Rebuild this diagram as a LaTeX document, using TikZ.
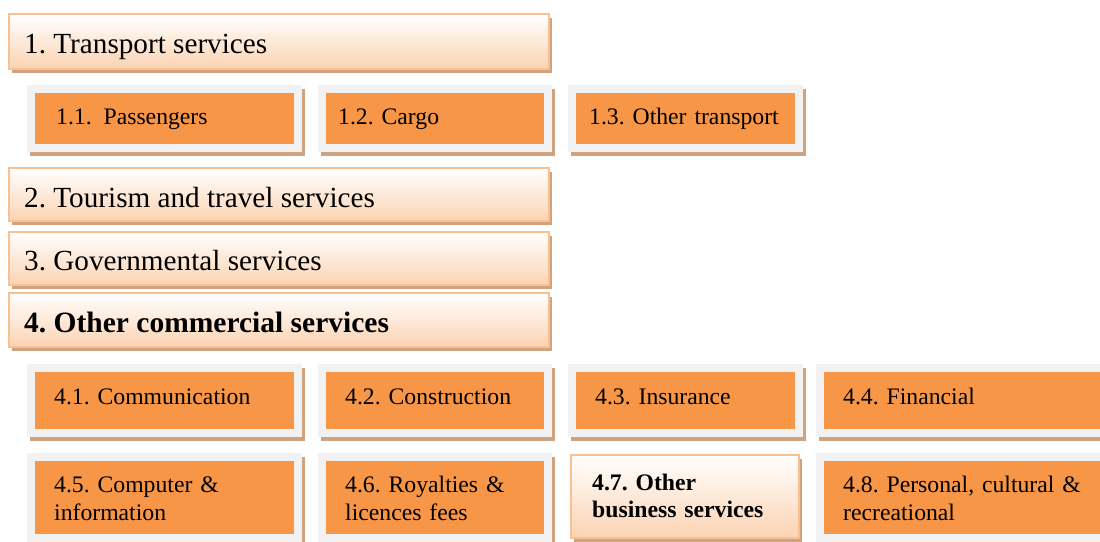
\documentclass[tikz,border=0pt]{standalone}
\usepackage{fontspec}
\setmainfont{Liberation Serif}
\frenchspacing

\definecolor{accent}{RGB}{247,150,70}
\definecolor{framegray}{RGB}{242,242,242}
\definecolor{peach}{RGB}{251,211,178}
\definecolor{peachline}{RGB}{250,192,143}
\definecolor{shadowtan}{RGB}{207,163,128}

\tikzset{
  headbox/.style={draw=peachline, line width=1.4pt, top color=white,
    bottom color=peach, inner sep=0pt, outer sep=0pt},
  framebox/.style={fill=framegray, inner sep=0pt, outer sep=0pt},
  fillbox/.style={fill=accent, inner sep=0pt, outer sep=0pt},
  dropshade/.style={fill=shadowtan},
  headtext/.style={anchor=base west, inner sep=0pt,
    font=\fontsize{29.2}{35}\selectfont},
  subtext/.style={anchor=base west, inner sep=0pt, align=left,
    text width=250pt, font=\fontsize{23.7}{28.2}\selectfont},
}

% name, left, top, right, bottom (pixel-style coordinates, y downwards)
\newcommand\headbar[5]{%
  \fill[dropshade] (#2+3,#3+4) rectangle (#4+3,#5+4);
  \node[headbox, anchor=north west, minimum width=#4-#2,
    minimum height=#5-#3] (#1) at (#2,#3) {};
}
\newcommand\catbox[5]{%
  \fill[dropshade] (#2+3,#3+4) rectangle (#4+3,#5+4);
  \node[framebox, anchor=north west, minimum width=#4-#2,
    minimum height=#5-#3] (#1) at (#2,#3) {};
  \node[fillbox, anchor=north west, minimum width=#4-#2-16,
    minimum height=#5-#3-16] (#1-in) at (#2+8,#3+8) {};
}

\begin{document}
\begin{tikzpicture}[x=1pt, y=-1pt]
  \useasboundingbox (0,0) rectangle (1100,541);
  \clip (0,0) rectangle (1100,541);

  % main categories
  \headbar{h1}{9}{14}{549}{69}
  \headbar{h2}{9}{168}{549}{221}
  \headbar{h3}{9}{232}{549}{285}
  \headbar{h4}{9}{293}{549}{347}

  % transport sub-categories
  \catbox{c11}{27}{85}{302}{152}
  \catbox{c12}{318}{85}{552}{152}
  \catbox{c13}{568}{85}{803}{152}

  % other commercial sub-categories
  \catbox{c41}{27}{364}{302}{437}
  \catbox{c42}{318}{364}{552}{437}
  \catbox{c43}{568}{364}{803}{437}
  \catbox{c44}{816}{364}{1112}{437}
  \catbox{c45}{27}{453}{302}{542}
  \catbox{c46}{318}{453}{552}{542}
  \headbar{c47}{571}{455}{799}{538}
  \catbox{c48}{816}{453}{1112}{542}

  % labels
  \node[headtext] (t1) at (24,53) {1. Transport services};
  \node[headtext] (t2) at (24,207) {2. Tourism and travel services};
  \node[headtext] (t3) at (24,270) {3. Governmental services};
  \node[headtext, font=\fontsize{29.5}{35}\selectfont\bfseries] (t4) at (24,332)
    {4. Other commercial services};

  \node[subtext] (t11) at (56,124) {1.1.\hspace{0.5em}Passengers};
  \node[subtext] (t12) at (338,124) {1.2. Cargo};
  \node[subtext] (t13) at (589,124) {1.3. Other transport};

  \node[subtext] (t41) at (54,404) {4.1. Communication};
  \node[subtext] (t42) at (345,404) {4.2. Construction};
  \node[subtext] (t43) at (595,404) {4.3. Insurance};
  \node[subtext] (t44) at (843,404) {4.4. Financial};

  \node[subtext] (t45) at (54,492) {4.5. Computer \&\\information};
  \node[subtext] (t46) at (345,492) {4.6. Royalties \&\\licences fees};
  \node[subtext, font=\fontsize{23.7}{27.5}\selectfont\bfseries] (t47) at (592,490)
    {4.7. Other\\business services};
  \node[subtext] (t48) at (843,492) {4.8. Personal, cultural \&\\recreational};
\end{tikzpicture}
\end{document}
